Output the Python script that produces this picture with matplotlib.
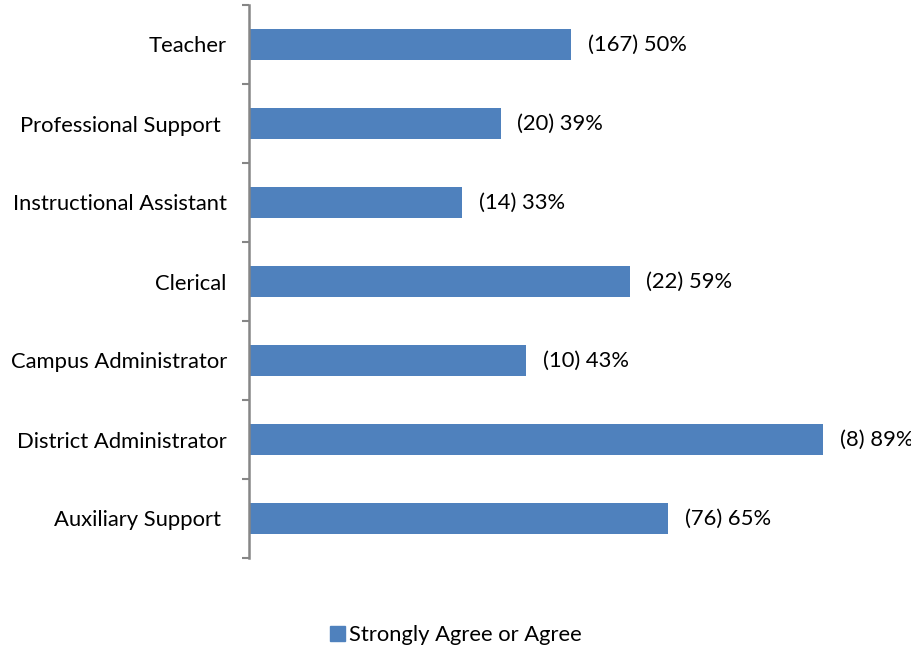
import matplotlib.pyplot as plt
from matplotlib.patches import Patch

# Share of respondents who strongly agree or agree, by role
roles = [
    "Teacher",
    "Professional Support ",
    "Instructional Assistant",
    "Clerical",
    "Campus Administrator",
    "District Administrator",
    "Auxiliary Support ",
]
counts = [167, 20, 14, 22, 10, 8, 76]
percents = [50, 39, 33, 59, 43, 89, 65]
series_name = "Strongly Agree or Agree"

BAR_COLOR = "#4F81BD"
AXIS_COLOR = "#868686"
FONT_SIZE = 15.8

plt.rcParams["font.family"] = ["Lato", "DejaVu Sans"]

fig = plt.figure(figsize=(9.12, 6.51), dpi=100)
ax = fig.add_axes([249 / 912, 1 - 558 / 651, (894 - 249) / 912, (558 - 5) / 651])

ypos = list(range(len(roles)))
ax.barh(ypos, percents, height=0.38, color=BAR_COLOR, left=0)
ax.set_ylim(len(roles) - 0.5, -0.5)
ax.set_xlim(0, 100)

for y, p, c in zip(ypos, percents, counts):
    ax.annotate(f"({c}) {p}%", xy=(p, y), xytext=(12, 0), textcoords="offset points",
                va="center", ha="left", fontsize=FONT_SIZE, color="black")

# category axis: tick marks at the band boundaries, labels between
ax.set_yticks([i - 0.5 for i in range(len(roles) + 1)], minor=False)
ax.set_yticklabels([])
ax.set_yticks(ypos, minor=True)
ax.set_yticklabels(roles, minor=True, fontsize=FONT_SIZE)
ax.tick_params(axis="y", which="major", length=5, width=1.5, color=AXIS_COLOR, direction="out")
ax.tick_params(axis="y", which="minor", length=0, pad=16)
ax.set_xticks([])

for side in ["top", "right", "bottom"]:
    ax.spines[side].set_visible(False)
ax.spines["left"].set_color(AXIS_COLOR)
ax.spines["left"].set_linewidth(1.8)

fig.legend(handles=[Patch(color=BAR_COLOR, label=series_name)], loc="center",
           bbox_to_anchor=(456 / 912, 1 - 635 / 651), frameon=False, fontsize=FONT_SIZE,
           handlelength=0.65, handleheight=0.65, handletextpad=0.2)

fig.savefig("out.png", dpi=100)
